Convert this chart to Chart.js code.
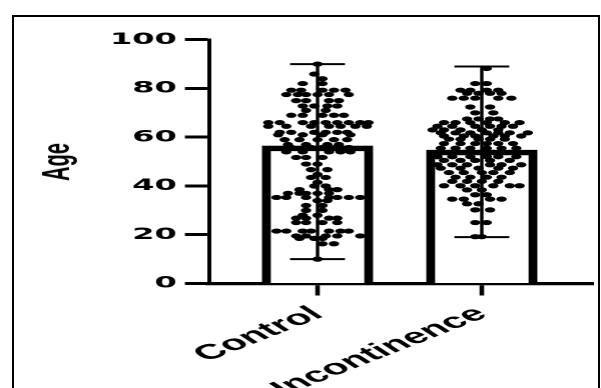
<!DOCTYPE html>
<html>
<head>
<meta charset="utf-8">
<script src="https://cdn.jsdelivr.net/npm/chart.js@4"></script>
<style>
  html, body { margin: 0; padding: 0; background: #fff; overflow: hidden; }
  #frame {
    position: absolute; left: 12px; top: 15px; width: 588px; height: 430px;
    box-sizing: border-box; border: 2px solid #000;
  }
  /* the figure is stretched sideways, so draw it narrow and widen it */
  #stretch {
    position: absolute; left: 0; top: 0; width: 300px; height: 388px;
    transform-origin: 0 0; transform: scaleX(2.00333);
  }
  #ageTitle {
    position: absolute; left: 56px; top: 162px;
    font: bold 20px "Liberation Sans", Arial, sans-serif; line-height: 1;
    white-space: nowrap; color: #000;
    transform: translate(-50%, -50%) rotate(-90deg) scaleY(1.9);
  }
</style>
</head>
<body>
<div id="frame"></div>
<div id="stretch"><canvas id="chart" width="300" height="388"></canvas></div>
<div id="ageTitle">Age</div>
<script>
// Chart data
const categories = ["Control", "Incontinence"];
const barMeans = [56.4, 54.7];
const rangeMin = [10, 19];
const rangeMax = [90, 89];
const yTicks = [0, 20, 40, 60, 80, 100];

// Dots, one row per age: [age, [offsets from the bar centre in category units]]
const controlRows = [
  [90, [0]],
  [85.9, [-0.02]],
  [84, [0.03]],
  [82, [-0.09, 0.03]],
  [79.3, [-0.16, -0.10, 0.03, 0.10, 0.17]],
  [77.5, [-0.19, -0.12, -0.07, 0.0, 0.07, 0.19]],
  [75, [-0.13, -0.07, 0.07, 0.13]],
  [72.8, [-0.09, -0.02, 0.06, 0.12]],
  [71, [-0.07, 0.05]],
  [69, [-0.16, -0.09, 0.03, 0.10, 0.16]],
  [66, [-0.30, -0.23, -0.09, -0.02, 0.05, 0.12, 0.19, 0.26, 0.31]],
  [64.5, [-0.30, -0.19, -0.04, 0.07, 0.14, 0.23, 0.30]],
  [62, [-0.23, -0.16, -0.02, 0.05, 0.12, 0.18]],
  [61, [-0.24, -0.09, 0.03, 0.20]],
  [59, [-0.20, -0.11, 0.0, 0.10, 0.18]],
  [57, [-0.18, -0.07, 0.06, 0.13]],
  [55.8, [-0.16, -0.04, 0.03, 0.11, 0.19]],
  [54, [-0.19, -0.09, 0.07, 0.14, 0.20]],
  [51.7, [-0.13, -0.07, 0.03]],
  [49, [-0.07, 0.0]],
  [46.7, [-0.04, 0.06]],
  [44.7, [0.0]],
  [43.5, [-0.04, 0.05]],
  [41.5, [0.0]],
  [40, [-0.02, 0.05]],
  [38.5, [-0.11, 0.07, 0.12]],
  [37, [-0.18, -0.11, -0.07, 0.0, 0.07]],
  [35.3, [-0.25, -0.19, -0.07, 0.07, 0.12, 0.19, 0.26]],
  [34, [0.0, 0.06]],
  [32, [-0.07, 0.03]],
  [30, [-0.07, 0.03]],
  [28, [-0.09, 0.0]],
  [26.8, [-0.13, -0.07, 0.07, 0.12]],
  [25, [-0.13, -0.07, 0.03, 0.12]],
  [21.5, [-0.25, -0.19, -0.09, -0.04, 0.07, 0.14, 0.19]],
  [19.5, [-0.13, -0.07, 0.05, 0.12, 0.26]],
  [18.5, [-0.11, -0.02, 0.03]],
  [16.3, [0.03, 0.10]],
  [10, [0]],
];

const incontinenceRows = [
  [88.2, [0.03]],
  [82, [-0.04, 0.03]],
  [79.3, [-0.13, -0.07, 0.03, 0.10]],
  [78, [-0.09, -0.02, 0.05, 0.12]],
  [76, [-0.18, -0.11, -0.04, 0.10, 0.18]],
  [72.4, [-0.07, 0.05]],
  [70, [-0.04, 0.07]],
  [67.5, [-0.09, -0.02, 0.05, 0.10]],
  [66, [-0.23, -0.16, -0.07, 0.03, 0.14, 0.23]],
  [64.5, [-0.27, -0.18, -0.04, 0.05, 0.12, 0.19]],
  [63, [-0.30, -0.23, -0.13, 0.0, 0.10]],
  [61.8, [-0.25, -0.16, -0.07, 0.03, 0.10, 0.17, 0.28]],
  [60.5, [-0.23, -0.11, -0.04, 0.07, 0.14, 0.24]],
  [59.2, [-0.20, -0.13, -0.02, 0.05, 0.14]],
  [57.4, [-0.23, -0.13, -0.04, 0.03, 0.10, 0.19]],
  [55.5, [-0.25, -0.16, -0.07, 0.03, 0.12, 0.21]],
  [53.8, [-0.20, -0.11, -0.02, 0.07, 0.17]],
  [52, [-0.27, -0.18, -0.07, 0.03, 0.10, 0.21]],
  [50.5, [-0.23, -0.13, -0.04, 0.05, 0.17]],
  [48.7, [-0.27, -0.18, -0.09, 0.05, 0.12, 0.24]],
  [47.3, [-0.25, -0.13, -0.02, 0.10, 0.19]],
  [45.5, [-0.20, -0.11, 0.0, 0.07, 0.17]],
  [43.6, [-0.16, -0.07, 0.03, 0.12]],
  [41.9, [-0.18, -0.09, 0.0, 0.10]],
  [40.1, [-0.23, -0.13, -0.04, 0.07, 0.17, 0.23]],
  [38.4, [-0.09, 0.0]],
  [36.4, [-0.04, 0.03]],
  [34.6, [-0.18, -0.11, 0.05, 0.12]],
  [32.7, [-0.09, -0.02]],
  [30.2, [-0.04, 0.05]],
  [25, [-0.04, 0.03]],
  [19.2, [-0.04, 0.0]],
];

// Turn the rows into scatter points around bar position i
function rowsToPoints(rows, i) {
  return rows.flatMap(([age, offsets]) => offsets.map((o) => ({ x: i + o, y: age })));
}

const capHalf = 0.167; // half width of the error bar caps, category units

// Error bar lines: stem plus two caps per group
const errorDatasets = [];
categories.forEach((name, i) => {
  const segments = [
    { pts: [{ x: i, y: rangeMin[i] }, { x: i, y: rangeMax[i] }], w: 1.7 },
    { pts: [{ x: i - capHalf, y: rangeMax[i] }, { x: i + capHalf, y: rangeMax[i] }], w: 2 },
    { pts: [{ x: i - capHalf, y: rangeMin[i] }, { x: i + capHalf, y: rangeMin[i] }], w: 2 },
  ];
  segments.forEach((seg) => {
    errorDatasets.push({
      type: "line",
      data: seg.pts,
      borderColor: "#000",
      borderWidth: seg.w,
      pointRadius: 0,
      fill: false,
      order: 2,
    });
  });
});

const ctx = document.getElementById("chart").getContext("2d");
new Chart(ctx, {
  type: "bar",
  data: {
    datasets: [
      {
        type: "bar",
        data: barMeans.map((v, i) => ({ x: i, y: v })),
        backgroundColor: "#fff",
        borderColor: "#000",
        borderWidth: { left: 4.5, right: 4.5, top: 5.5, bottom: 0 },
        borderSkipped: false,
        barThickness: 55,
        order: 3,
      },
      ...errorDatasets,
      {
        type: "scatter",
        data: rowsToPoints(controlRows, 0),
        backgroundColor: "#000",
        borderWidth: 0,
        pointRadius: 2.6,
        order: 1,
      },
      {
        type: "scatter",
        data: rowsToPoints(incontinenceRows, 1),
        backgroundColor: "#000",
        borderWidth: 0,
        pointRadius: 2.6,
        order: 1,
      },
    ],
  },
  options: {
    responsive: false,
    devicePixelRatio: 2,
    animation: false,
    layout: { padding: { top: 39.7, right: 3, left: 0, bottom: 0 } },
    plugins: {
      legend: { display: false },
      tooltip: { enabled: false },
    },
    scales: {
      x: {
        type: "linear",
        min: -0.661,
        max: 1.677,
        offset: false,
        afterBuildTicks: (axis) => {
          axis.ticks = categories.map((c, i) => ({ value: i }));
        },
        afterFit: (axis) => {
          axis.height = 104.5;
        },
        ticks: {
          autoSkip: false,
          minRotation: 38,
          maxRotation: 38,
          padding: 6,
          color: "#000",
          font: { family: "'Liberation Sans', Arial, sans-serif", size: 21, weight: "bold" },
          callback: (v) => categories[v],
        },
        grid: {
          offset: false,
          drawOnChartArea: false,
          drawTicks: true,
          tickLength: 12,
          tickWidth: 2.3,
          tickColor: "#000",
        },
        border: { display: true, color: "#000", width: 3.3 },
      },
      y: {
        min: 0,
        max: 100,
        afterBuildTicks: (axis) => {
          axis.ticks = yTicks.map((v) => ({ value: v }));
        },
        afterFit: (axis) => {
          axis.width = 104.3;
        },
        ticks: {
          padding: 4,
          color: "#000",
          font: { family: "'DejaVu Sans', sans-serif", size: 16, weight: "bold" },
        },
        grid: {
          drawOnChartArea: false,
          drawTicks: true,
          tickLength: 12,
          tickWidth: 3,
          tickColor: "#000",
        },
        border: { display: true, color: "#000", width: 2 },
      },
    },
  },
});
</script>
</body>
</html>
